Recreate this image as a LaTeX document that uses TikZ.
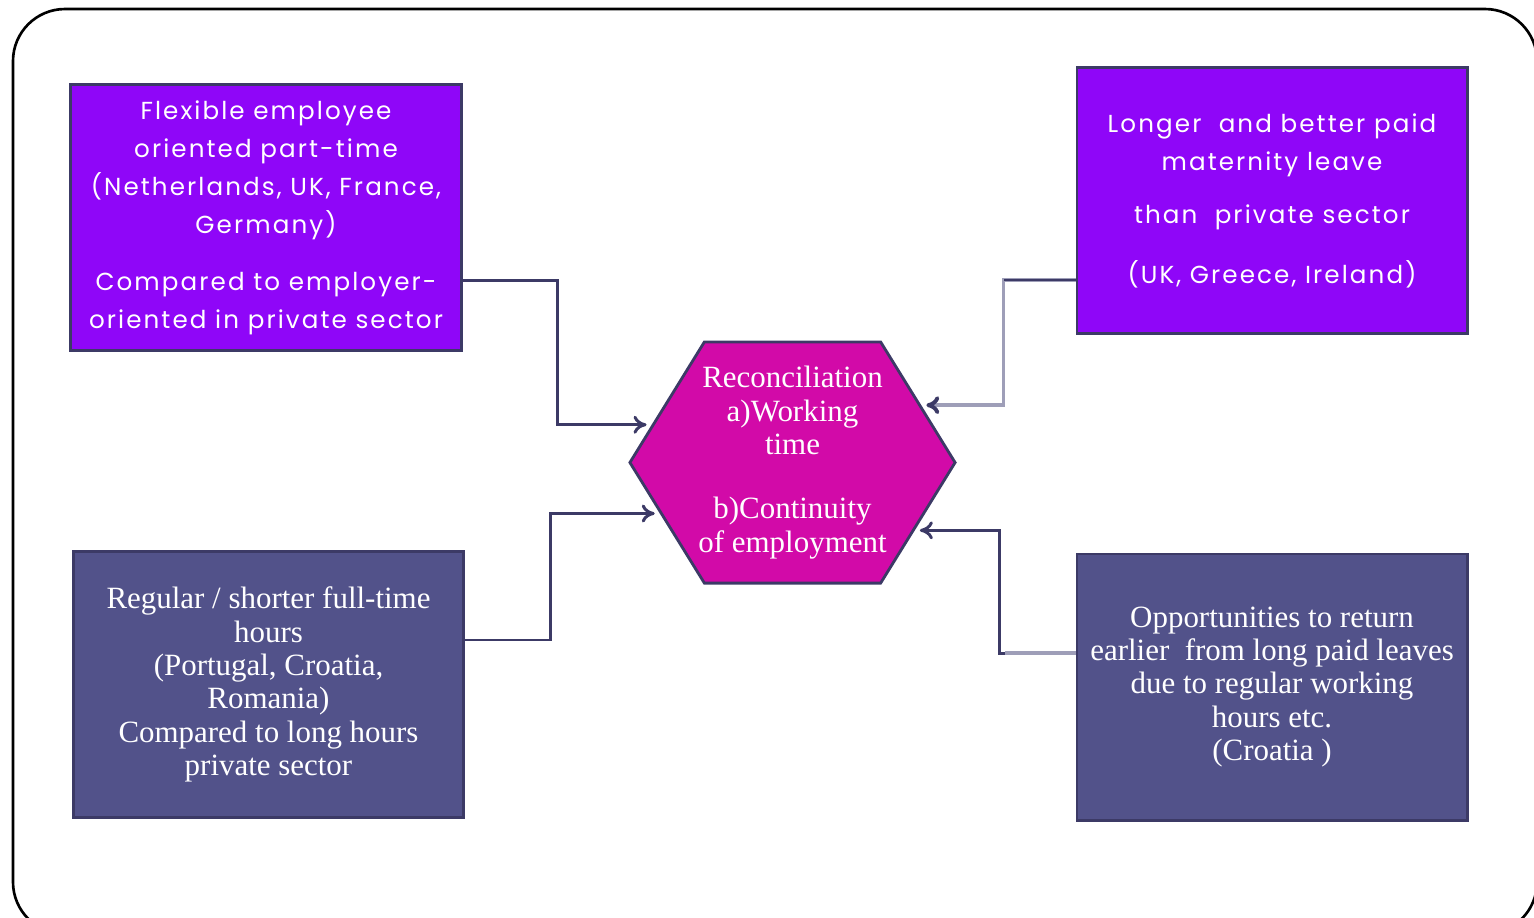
\documentclass[tikz,border=0pt]{standalone}
\usepackage{fontspec}
\setmainfont{Liberation Serif}
\newfontfamily\fontecaixa[LetterSpace=8.5]{Poppins}
\usetikzlibrary{shapes.symbols,arrows.meta}
\definecolor{roxoVivo}{RGB}{143,6,248}
\definecolor{ardosia}{RGB}{82,82,138}
\definecolor{magentaHex}{RGB}{210,10,168}
\definecolor{contorno}{RGB}{60,58,102}
\definecolor{cinzaLinha}{RGB}{158,158,184}
\tikzset{
  caixa/.style={rectangle, draw=contorno, line width=0.8pt, text=white,
                minimum width=3.9cm, minimum height=2.66cm, align=center, inner sep=0pt},
  caixaroxa/.style={caixa, fill=roxoVivo, font=\fontecaixa\fontsize{7}{10.8}\selectfont},
  caixaazul/.style={caixa, fill=ardosia, font=\fontsize{8.8}{9.5}\selectfont},
  hexa/.style={signal, signal to=east and west, signal pointer angle=116.6,
               draw=contorno, line width=0.8pt, fill=magentaHex,
               minimum width=3.25cm, minimum height=2.41cm, inner sep=0pt},
  textohex/.style={text=white, align=center, font=\fontsize{8.8}{9.5}\selectfont},
  seta/.style={-{To[length=1.3mm,width=1.8mm]}, line width=0.85pt, contorno, shorten >=0.05cm},
  setaclara/.style={-{To[length=1.3mm,width=1.8mm,color=contorno]}, line width=1.1pt,
                    cinzaLinha, shorten >=0.05cm},
  traco/.style={line width=0.55pt, contorno},
  moldura/.style={draw=black, line width=0.75pt, rounded corners=0.52cm},
}
\begin{document}
\begin{tikzpicture}[x=0.01cm, y=-0.01cm]
  \clip (0,0) rectangle (1534,917);
  \useasboundingbox (0,0) rectangle (1534,917);
  \draw[moldura] (13,9) rectangle (1537,934);

  \node[hexa, label={[textohex]center:{Reconciliation\\a)Working\\time\\[8.8pt]
        b)Continuity\\of employment}}] (hex) at (792.5,462.5) {};

  \node[caixaroxa] (flex) at (266,217.5)
       {Flexible employee\\oriented part-time\\(Netherlands, UK, France,\\Germany)\\[5.4pt]
        Compared to employer-\\oriented in private sector};
  \node[caixaroxa] (mat) at (1272,200.5)
       {Longer\ \ and better paid\\maternity leave\\[4.5pt]than\ \ private sector\\[6pt]
        (UK, Greece, Ireland)};
  \node[caixaazul] (horas) at (268.5,684.5)
       {Regular / shorter full-time\\hours\\(Portugal, Croatia,\\Romania)\\
        Compared to long hours\\private sector};
  \node[caixaazul] (retorno) at (1272,687)
       {Opportunities to return\\earlier\ \ from long paid leaves\\due to regular working\\
        hours etc.\\(Croatia )};

  \draw[seta] ([yshift=-0.625cm]flex.east) -- ++(95,0) |- (hex.165);
  \draw[seta] ([yshift=0.445cm]horas.east) -- ++(85,0) |- (hex.201);
  \draw[setaclara] ([yshift=-0.795cm]mat.west) -- ++(-72,0) |- (hex.24);
  \draw[traco] ([yshift=-0.795cm]mat.west) -- ++(-72,0);
  \draw[seta] ([yshift=0.34cm]retorno.west) -- ++(-76,0) |- (hex.331);
  \draw[setaclara, -] ([yshift=0.34cm]retorno.west) -- ++(-76,0);
\end{tikzpicture}
\end{document}
